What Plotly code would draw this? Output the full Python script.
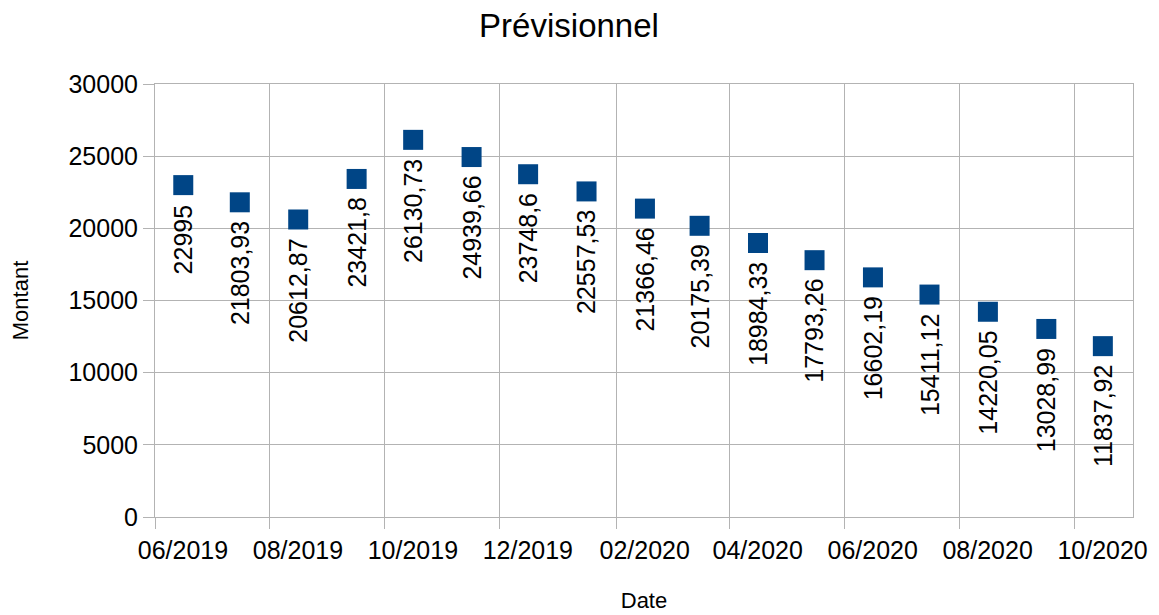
import plotly.graph_objects as go

dates = ["2019-06-16", "2019-07-16", "2019-08-16", "2019-09-16", "2019-10-16", "2019-11-16",
         "2019-12-16", "2020-01-16", "2020-02-16", "2020-03-16", "2020-04-16", "2020-05-16",
         "2020-06-16", "2020-07-16", "2020-08-16", "2020-09-16", "2020-10-16"]
montants = [22995, 21803.93, 20612.87, 23421.8, 26130.73, 24939.66, 23748.6, 22557.53,
            21366.46, 20175.39, 18984.33, 17793.26, 16602.19, 15411.12, 14220.05, 13028.99, 11837.92]


def fmt(v):
    s = ("%.2f" % v).rstrip("0").rstrip(".")
    return s.replace(".", ",")


FONT = "Liberation Sans, Arial, sans-serif"
GRID = "#b3b3b3"

fig = go.Figure()
fig.add_trace(go.Scatter(
    x=dates, y=montants, mode="markers",
    marker=dict(symbol="square", size=20, color="#004586", line=dict(width=0)),
    hoverinfo="x+y", showlegend=False,
))

annotations = []
for d, v in zip(dates, montants):
    annotations.append(dict(
        x=d, y=v, xref="x", yref="y", text=fmt(v), showarrow=False,
        textangle=-90, xanchor="center", yanchor="top", yshift=-17,
        font=dict(family=FONT, size=25, color="#000000"),
    ))

fig.update_layout(
    width=1151, height=607,
    paper_bgcolor="white", plot_bgcolor="white",
    margin=dict(l=147, r=26, t=76, b=98),
    title=dict(text="Prévisionnel", x=0.4874, xanchor="center", xref="container",
               y=0.972, yanchor="middle", yref="container",
               font=dict(family=FONT, size=33, color="#000000")),
    annotations=annotations,
    font=dict(family=FONT, color="#000000"),
)

fig.update_xaxes(
    type="date", range=["2019-06-01", "2020-11-01"],
    tick0="2019-06-01", dtick="M2", tickformat="%m/%Y",
    ticklabelshift=28,
    showgrid=True, gridcolor=GRID, gridwidth=1,
    showline=True, linecolor=GRID, linewidth=1, mirror=True,
    ticks="outside", ticklen=11, tickcolor=GRID, tickwidth=1,
    tickfont=dict(family=FONT, size=25, color="#000000"),
    title=dict(text="Date", font=dict(family=FONT, size=22, color="#000000"), standoff=29),
    zeroline=False, automargin=False,
)
fig.update_yaxes(
    range=[0, 30000], dtick=5000, tick0=0, tickformat="d",
    showgrid=True, gridcolor=GRID, gridwidth=1,
    showline=True, linecolor=GRID, linewidth=1, mirror=True,
    ticks="outside", ticklen=11, tickcolor=GRID, tickwidth=1,
    tickfont=dict(family=FONT, size=25, color="#000000"),
    title=dict(text="Montant", font=dict(family=FONT, size=22, color="#000000"), standoff=33),
    zeroline=False, automargin=False,
)

fig.write_html("out.html")
